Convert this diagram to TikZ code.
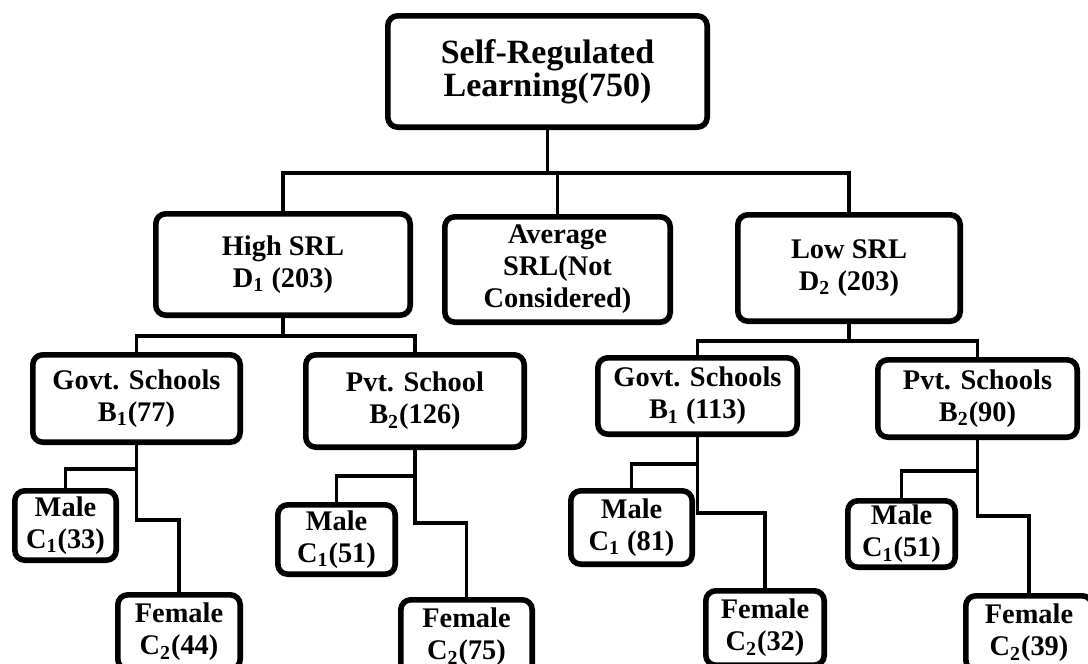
\documentclass[tikz,border=0pt]{standalone}
\usepackage{fontspec}
\setmainfont{Liberation Serif}
\usepackage{tikz}
\usetikzlibrary{shadows}
\tikzset{
  srlbox/.style 2 args={rectangle, draw=black, line width=2.8pt, rounded corners=5pt,
                 fill=white, minimum width=#1*0.5pt-2.8pt, minimum height=#2*0.5pt-2.8pt,
                 inner sep=1pt, align=center, font=\fontsize{14.2}{16}\selectfont\bfseries,
                 drop shadow={opacity=0.3, shadow xshift=1.2pt, shadow yshift=-1.2pt}},
  link/.style={line width=1.9pt, draw=black},
}

\begin{document}
\begin{tikzpicture}[x=0.5pt, y=-0.5pt]
  \useasboundingbox (0,0) rectangle (1088,664);
  % top level
  \node[srlbox={325}{117}, font=\fontsize{17}{16.5}\selectfont\bfseries] (root) at (547.5,71.5) {Self-Regulated\\Learning(750)};
  \node[srlbox={260}{107}] (high) at (283,264.5)   {High SRL\\D\textsubscript{1} (203)};
  \node[srlbox={231}{111}] (avg)  at (557.5,269.5) {Average\\SRL(Not\\Considered)};
  \node[srlbox={228}{112}] (low)  at (849,268)     {Low SRL\\D\textsubscript{2} (203)};
  % schools
  \node[srlbox={213}{93}] (hiGov) at (136.5,398.5) {Govt. Schools\\B\textsubscript{1}(77)};
  \node[srlbox={224}{98}] (hiPvt) at (415,401)     {Pvt. School\\B\textsubscript{2}(126)};
  \node[srlbox={205}{82}] (loGov) at (697.5,396)   {Govt. Schools\\B\textsubscript{1} (113)};
  \node[srlbox={205}{83}] (loPvt) at (977.5,398.5) {Pvt. Schools\\B\textsubscript{2}(90)};
  % gender
  \node[srlbox={107}{75}] (hiGovM) at (65.5,525.5) {Male\\C\textsubscript{1}(33)};
  \node[srlbox={128}{80}] (hiGovF) at (179,632)    {Female\\C\textsubscript{2}(44)};
  \node[srlbox={123}{75}] (hiPvtM) at (336.5,539.5) {Male\\C\textsubscript{1}(51)};
  \node[srlbox={137}{80}] (hiPvtF) at (466.5,637)  {Female\\C\textsubscript{2}(75)};
  \node[srlbox={127}{79}] (loGovM) at (631.5,527.5) {Male\\C\textsubscript{1} (81)};
  \node[srlbox={124}{80}] (loGovF) at (765,628)    {Female\\C\textsubscript{2}(32)};
  \node[srlbox={113}{72}] (loPvtM) at (901.5,534)  {Male\\C\textsubscript{1}(51)};
  \node[srlbox={132}{80}] (loPvtF) at (1029,633)   {Female\\C\textsubscript{2}(39)};

  \foreach \a/\b/\d in {root/high/43, root/avg/43, root/low/43,
                        high/hiGov/18, high/hiPvt/18, low/loGov/17, low/loPvt/17,
                        hiGov/hiGovM/24, hiGov/hiGovF/75, hiPvt/hiPvtM/26, hiPvt/hiPvtF/73,
                        loGov/loGovM/27, loGov/loGovF/76, loPvt/loPvtM/31, loPvt/loPvtF/76}
    \draw[link] (\a.south) -- ++(0,\d) -| (\b.north);
\end{tikzpicture}
\end{document}
